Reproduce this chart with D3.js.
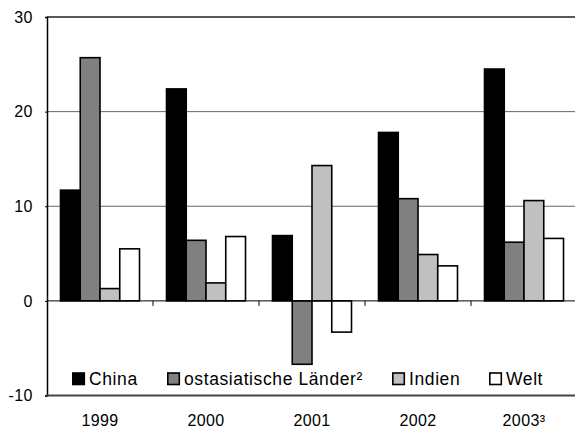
<!DOCTYPE html>
<html><head><meta charset="utf-8">
<script src="https://cdn.jsdelivr.net/npm/d3@7"></script>
<style>body{margin:0;background:#fff}svg{display:block}text{font-family:"Liberation Sans",Arial,Helvetica,sans-serif;fill:#000}</style>
</head><body><svg id="c" width="575" height="429"></svg>
<script>
const years = ["1999","2000","2001","2002","2003³"];
const seriesNames = ["China","ostasiatische Länder²","Indien","Welt"];
const china = [11.7, 22.4, 6.9, 17.8, 24.5];
const ostasien = [25.7, 6.4, -6.7, 10.8, 6.2];
const indien = [1.3, 1.9, 14.3, 4.9, 10.6];
const welt = [5.5, 6.8, -3.3, 3.7, 6.6];
const yTicks = [-10, 0, 10, 20, 30];
const colors = ["#000000","#808080","#c0c0c0","#ffffff"];

const values = [china, ostasien, indien, welt];
const svg = d3.select("#c");
const L = 47, R = 577, T = 17, B = 395.5;
const y = d3.scaleLinear().domain([-10, 30]).range([B, T]);
const x0 = d3.scaleBand().domain(years).range([L, R]).padding(0);
const x1 = d3.scaleBand().domain(seriesNames).range([13.5, x0.bandwidth() - 13.5]).padding(0);

// gridlines
svg.append("g").selectAll("line").data([10, 20]).join("line")
  .attr("x1", L).attr("x2", 575).attr("y1", d => y(d)).attr("y2", d => y(d))
  .attr("stroke", "#666").attr("stroke-width", 1);
// top line
svg.append("line").attr("x1", L).attr("x2", 575).attr("y1", y(30)).attr("y2", y(30))
  .attr("stroke", "#222").attr("stroke-width", 1.5);

// bars
const rows = years.map((yr, i) => ({yr, vals: seriesNames.map((s, j) => ({s, j, v: values[j][i]}))}));
const g = svg.append("g").selectAll("g").data(rows).join("g")
  .attr("transform", d => `translate(${x0(d.yr)},0)`);
g.selectAll("rect").data(d => d.vals).join("rect")
  .attr("x", d => x1(d.s)).attr("width", x1.bandwidth())
  .attr("y", d => y(Math.max(0, d.v))).attr("height", d => Math.abs(y(d.v) - y(0)))
  .attr("fill", d => colors[d.j]).attr("stroke", "#000").attr("stroke-width", 1.6);

// zero axis with ticks
svg.append("line").attr("x1", L).attr("x2", 575).attr("y1", y(0)).attr("y2", y(0))
  .attr("stroke", "#000").attr("stroke-width", 1);
svg.append("g").selectAll("line").data(years.slice(1)).join("line")
  .attr("x1", d => x0(d)).attr("x2", d => x0(d)).attr("y1", y(0)).attr("y2", y(0) + 5)
  .attr("stroke", "#000").attr("stroke-width", 1);

// left axis
const yAxis = d3.axisLeft(y).tickValues(yTicks).tickSize(2).tickPadding(12).tickFormat(d => String(d));
const ya = svg.append("g").attr("transform", `translate(${L},0)`).call(yAxis);
ya.select(".domain").attr("stroke", "#000").attr("stroke-width", 1.5);
ya.selectAll(".tick line").attr("stroke", "#000");
ya.selectAll("text").attr("font-size", 16).style("font-family", "'Liberation Sans',Arial,sans-serif")
  .style("letter-spacing", "0.5px").attr("fill", "#000");

// bottom frame line
svg.append("line").attr("x1", L - 0.75).attr("x2", 575).attr("y1", B).attr("y2", B)
  .attr("stroke", "#444").attr("stroke-width", 2);

// x labels
svg.append("g").selectAll("text").data(years).join("text")
  .attr("x", d => x0(d) + x0.bandwidth() / 2).attr("y", 420).attr("dy", "0.35em")
  .attr("text-anchor", "middle").attr("font-size", 16).style("letter-spacing", "0.4px").text(d => d);

// legend
const legX = [72, 167, 392, 489];
const leg = svg.append("g").selectAll("g").data(seriesNames).join("g")
  .attr("transform", (d, i) => `translate(${legX[i]},379)`);
leg.append("rect").attr("x", 0.8).attr("y", -6).attr("width", 11.5).attr("height", 11.5)
  .attr("fill", (d, i) => colors[i]).attr("stroke", "#000").attr("stroke-width", 1.6);
leg.append("text").attr("x", 17).attr("dy", "0.36em").attr("font-size", 17.5)
  .style("letter-spacing", "0.6px").text(d => d);
</script></body></html>
